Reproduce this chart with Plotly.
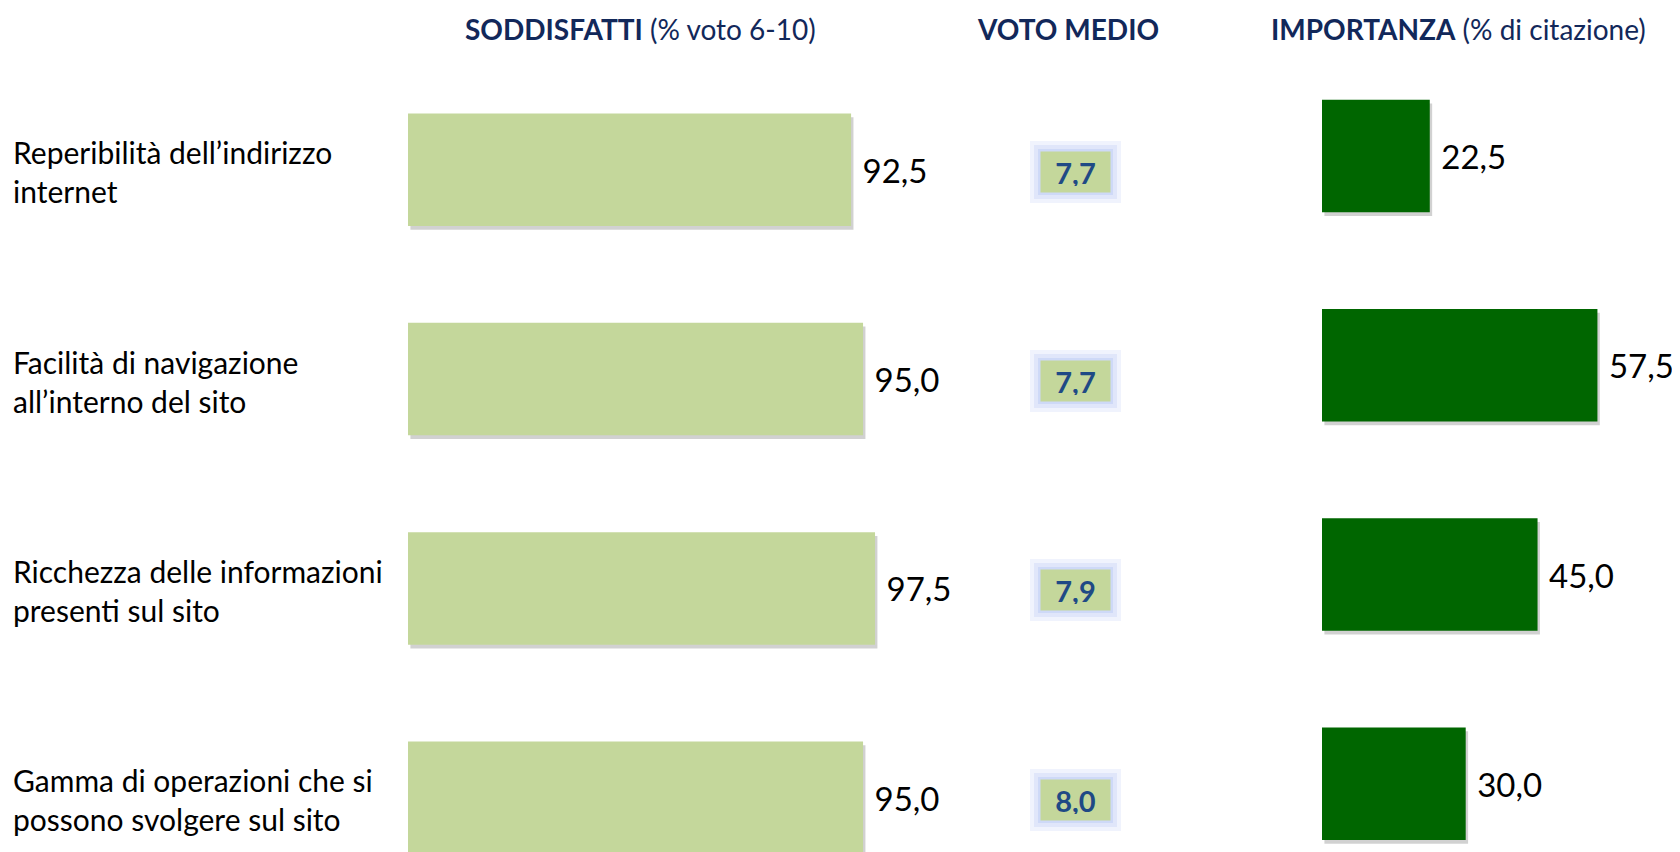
import plotly.graph_objects as go

categories = [
    "Reperibilità dell’indirizzo<br>internet",
    "Facilità di navigazione<br>all’interno del sito",
    "Ricchezza delle informazioni<br>presenti sul sito",
    "Gamma di operazioni che si<br>possono svolgere sul sito",
]
soddisfatti = [92.5, 95.0, 97.5, 95.0]
voto_medio = [7.7, 7.7, 7.9, 8.0]
importanza = [22.5, 57.5, 45.0, 30.0]

FONT = "Lato"
NAVY = "#12285a"
BAR_W = 0.5375
W, H = 1680, 852
OFF = 8          # page body margin
ROW = 209.3      # px per category step
PXU = 4.79       # px per percentage unit


def px_x(px):
    return (px - OFF) / W


def px_y(py):
    return 1 - (py - OFF) / H


fig = go.Figure()

for vals, color, xa, ya in [(soddisfatti, "#c4d79b", "x", "y"), (importanza, "#006600", "x2", "y2")]:
    fig.add_trace(go.Bar(
        y=categories, x=vals, base=0.5, orientation="h", width=BAR_W,
        offset=-BAR_W / 2 + 0.018, marker=dict(color="rgba(0,0,0,0.18)", line=dict(width=0)),
        xaxis=xa, yaxis=ya, hoverinfo="skip", showlegend=False,
    ))
    fig.add_trace(go.Bar(
        y=categories, x=vals, orientation="h", width=BAR_W,
        marker=dict(color=color, line=dict(width=0)),
        texttemplate="\u00a0%{x:.1f}", textposition="outside",
        textfont=dict(family=FONT, size=33, color="#000000"), cliponaxis=False,
        xaxis=xa, yaxis=ya, showlegend=False,
    ))

annotations = []
# row labels
for c in categories:
    annotations.append(dict(
        x=px_x(11), xref="paper", y=c, yref="y", yshift=-2, xanchor="left", yanchor="middle",
        text=c, align="left", showarrow=False,
        font=dict(family=FONT, size=30, color="#000000"),
    ))
# voto medio boxes (soft glow layers + box)
BOX_X = px_x(1075)
for c, v in zip(categories, voto_medio):
    label = f"<b>{v:.1f}</b>".replace(".", ",")
    for bw, col in [(11, "rgba(205,215,247,0.30)"), (7, "rgba(200,211,246,0.40)"), (3, "rgba(192,205,244,0.55)")]:
        annotations.append(dict(
            x=BOX_X, xref="paper", y=c, yref="y", yshift=-2, xanchor="center", yanchor="middle",
            text=label, showarrow=False, width=57, height=28,
            font=dict(family=FONT, size=29, color="rgba(0,0,0,0)"),
            bgcolor="rgba(0,0,0,0)", bordercolor=col, borderwidth=bw, borderpad=6,
        ))
    annotations.append(dict(
        x=BOX_X, xref="paper", y=c, yref="y", yshift=-2, xanchor="center", yanchor="middle",
        text=label, showarrow=False, width=57, height=28,
        font=dict(family=FONT, size=29, color="#1f4a85"),
        bgcolor="#c4d79b", borderpad=6,
    ))
# column titles
titles = [
    ("<b>SODDISFATTI</b> (% voto 6-10)", 640),
    ("<b>VOTO MEDIO</b>", 1068),
    ("<b>IMPORTANZA</b> (% di citazione)", 1458),
]
for t, xp in titles:
    annotations.append(dict(
        x=px_x(xp), xref="paper", y=px_y(29), yref="paper", xanchor="center", yanchor="middle",
        text=t, showarrow=False, font=dict(family=FONT, size=28, color=NAVY),
    ))

# row centres (window px): satisfaction bars and importance bars
S0, I0 = 169.8, 155.9
fig.update_layout(
    width=W, height=H,
    margin=dict(l=0, r=0, t=0, b=0),
    paper_bgcolor="white", plot_bgcolor="rgba(0,0,0,0)",
    barmode="overlay", separators=",.",
    showlegend=False,
    xaxis=dict(domain=[px_x(408), px_x(1000)], range=[0, 592 / PXU], visible=False, fixedrange=True),
    yaxis=dict(domain=[0, 1], type="category",
               range=[(H - (S0 - OFF)) / ROW, -(S0 - OFF) / ROW], visible=False, fixedrange=True),
    xaxis2=dict(domain=[px_x(1322), px_x(1680)], range=[0, 358 / PXU], visible=False, anchor="y2", fixedrange=True),
    yaxis2=dict(domain=[0, 1], type="category",
                range=[(H - (I0 - OFF)) / ROW, -(I0 - OFF) / ROW], visible=False, anchor="x2",
                overlaying="y", fixedrange=True),
    annotations=annotations,
    font=dict(family=FONT),
)

fig.write_html("out.html")
